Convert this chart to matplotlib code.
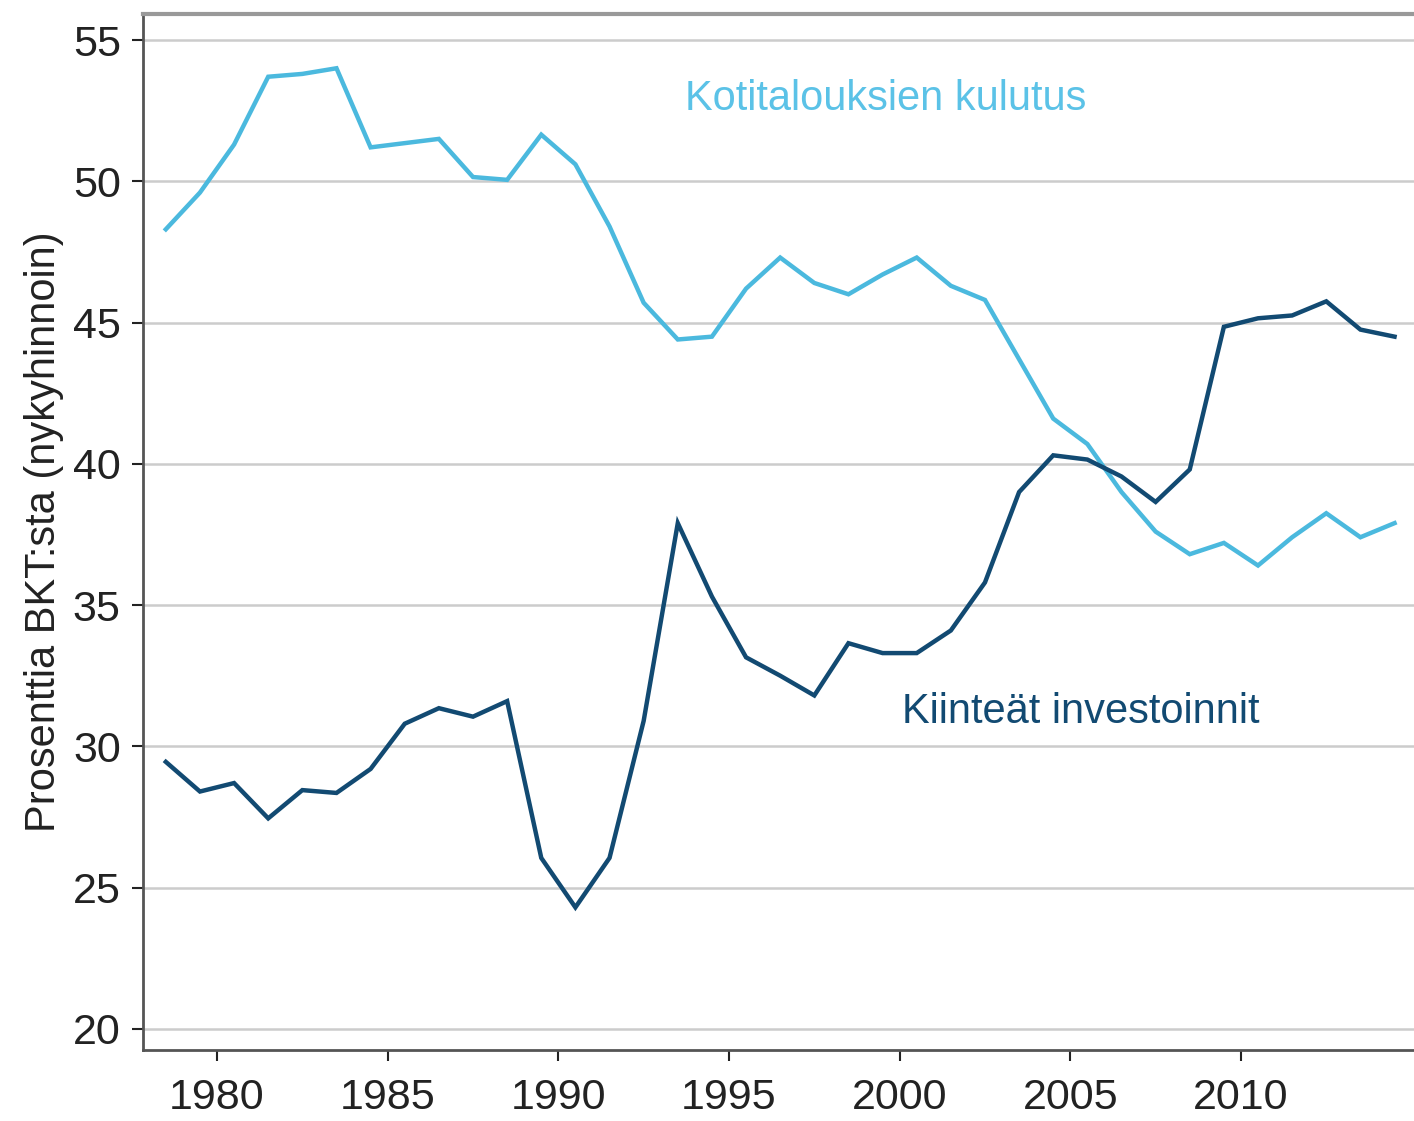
import numpy as np
import matplotlib.pyplot as plt

years = np.arange(1978, 2015)

kulutus = [48.3, 49.6, 51.3, 53.7, 53.8, 54.0, 51.2, 51.35, 51.5, 50.15,
           50.05, 51.65, 50.6, 48.4, 45.7, 44.4, 44.5, 46.2, 47.3, 46.4,
           46.0, 46.7, 47.3, 46.3, 45.8, 43.7, 41.6, 40.7, 39.0, 37.6,
           36.8, 37.2, 36.4, 37.4, 38.25, 37.4, 37.9]

investoinnit = [29.45, 28.4, 28.7, 27.45, 28.45, 28.35, 29.2, 30.8, 31.35, 31.05,
                31.6, 26.05, 24.3, 26.05, 30.9, 37.9, 35.3, 33.15, 32.5, 31.8,
                33.65, 33.3, 33.3, 34.1, 35.8, 39.0, 40.3, 40.15, 39.55, 38.65,
                39.8, 44.85, 45.15, 45.25, 45.75, 44.75, 44.5]

light = '#4bb9de'
dark = '#124a72'

plt.rcParams['font.family'] = ['Liberation Sans', 'DejaVu Sans']

fig = plt.figure(figsize=(14.14, 11.21), dpi=100)
ax = fig.add_axes([0.1011, 0.0633, 0.8989, 0.9242])

x = years + 0.5  # annual values drawn at mid-year
ax.plot(x, kulutus, color=light, lw=3.2, solid_joinstyle='miter')
ax.plot(x, investoinnit, color=dark, lw=3.2, solid_joinstyle='miter')

ax.set_xlim(1977.83, 2015.07)
ax.set_ylim(19.25, 55.92)
ax.set_yticks(np.arange(20, 56, 5))
ax.set_xticks(np.arange(1980, 2011, 5))
ax.grid(axis='y', color='#cccccc', lw=1.8)
ax.set_axisbelow(True)

ax.tick_params(axis='both', labelsize=31, colors='#222222', direction='out',
               length=8, width=1.5)
ax.tick_params(axis='x', pad=12)
ax.tick_params(axis='y', pad=8)

for s in ['left', 'bottom']:
    ax.spines[s].set_color('#555555')
    ax.spines[s].set_linewidth(2)
ax.spines['top'].set_color('#999999')
ax.spines['top'].set_linewidth(3)
ax.spines['right'].set_visible(False)

ax.set_ylabel('Prosenttia BKT:sta (nykyhinnoin)', fontsize=30, color='#222222', labelpad=6)

ax.text(1999.6, 52.9, 'Kotitalouksien kulutus', color='#5bc2e7', fontsize=30,
        ha='center', va='center')
ax.text(2005.3, 31.2, 'Kiinteät investoinnit', color=dark, fontsize=30,
        ha='center', va='center')

fig.savefig('out.png', dpi=100)
